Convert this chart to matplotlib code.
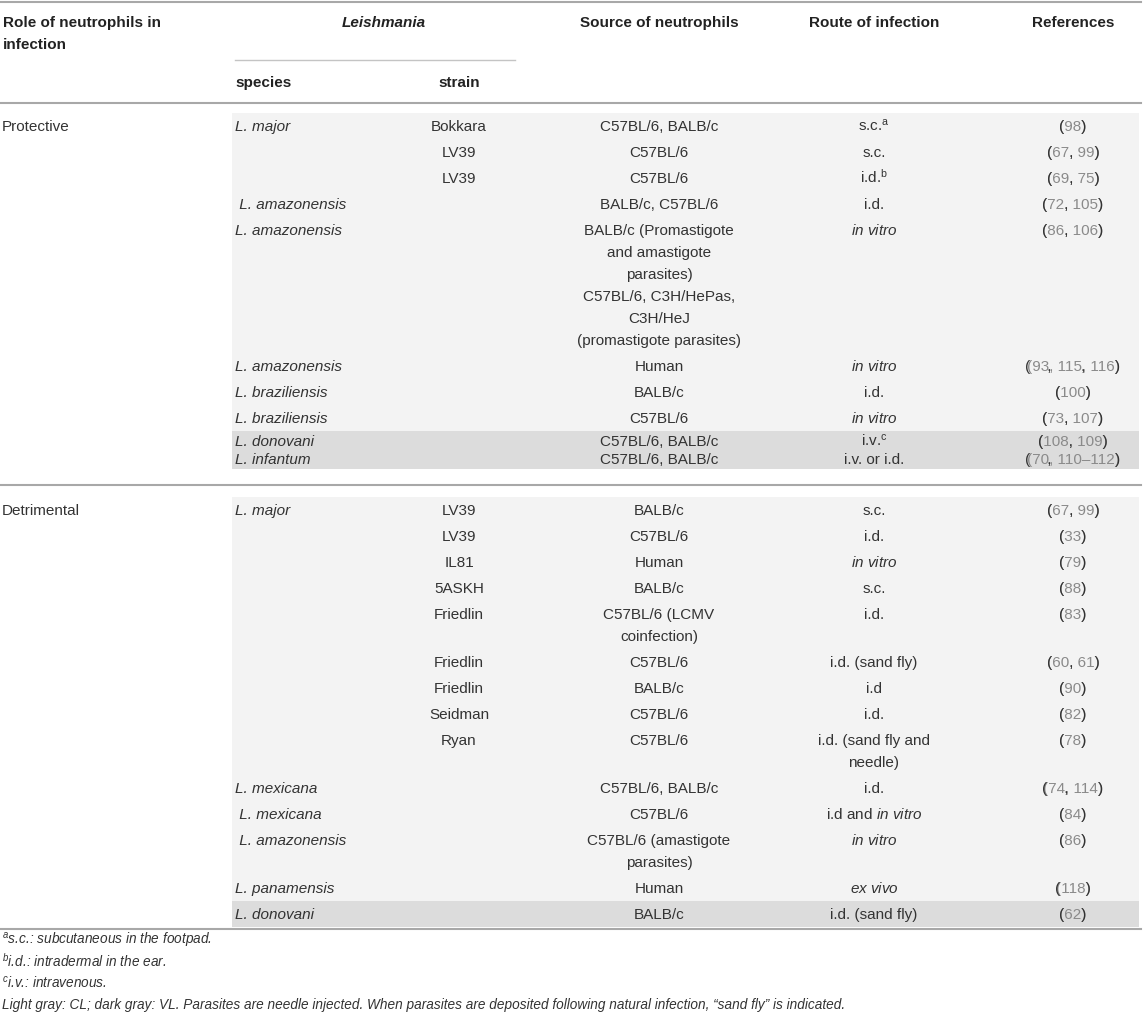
import re
import matplotlib
matplotlib.use("Agg")
import matplotlib.pyplot as plt
from matplotlib import font_manager
from matplotlib.ft2font import FT2Font

plt.rcParams['font.family'] = ['Liberation Sans', 'DejaVu Sans']
plt.rcParams['mathtext.fontset'] = 'custom'
plt.rcParams['mathtext.rm'] = 'Liberation Sans'
plt.rcParams['mathtext.it'] = 'Liberation Sans:italic'
plt.rcParams['mathtext.bf'] = 'Liberation Sans:bold'

# table content
headers = ["Role of neutrophils in\ninfection", "Leishmania", "species", "strain",
           "Source of neutrophils", "Route of infection", "References"]

roles = ["Protective", "Detrimental"]

species_p = ["L. major", "", "", " L. amazonensis", "L. amazonensis", "L. amazonensis",
             "L. braziliensis", "L. braziliensis", "L. donovani", "L. infantum"]
strain_p = ["Bokkara", "LV39", "LV39", "", "", "", "", "", "", ""]
source_p = ["C57BL/6, BALB/c", "C57BL/6", "C57BL/6", "BALB/c, C57BL/6",
            "BALB/c (Promastigote\nand amastigote\nparasites)\nC57BL/6, C3H/HePas,\nC3H/HeJ\n(promastigote parasites)",
            "Human", "BALB/c", "C57BL/6", "C57BL/6, BALB/c", "C57BL/6, BALB/c"]
route_p = [r"s.c.$^{\mathrm{a}}$", "s.c.", r"i.d.$^{\mathrm{b}}$", "i.d.", r"$\mathit{in\ vitro}$",
           r"$\mathit{in\ vitro}$", "i.d.", r"$\mathit{in\ vitro}$", r"i.v.$^{\mathrm{c}}$", "i.v. or i.d."]
refs_p = ["98", "67, 99", "69, 75", "72, 105", "86, 106", "93, 115, 116", "100", "73, 107",
          "108, 109", "70, 110–112"]
vl_p = [0, 0, 0, 0, 0, 0, 0, 0, 1, 1]

species_d = ["L. major", "", "", "", "", "", "", "", "", "L. mexicana", " L. mexicana",
             " L. amazonensis", "L. panamensis", "L. donovani"]
strain_d = ["LV39", "LV39", "IL81", "5ASKH", "Friedlin", "Friedlin", "Friedlin", "Seidman", "Ryan",
            "", "", "", "", ""]
source_d = ["BALB/c", "C57BL/6", "Human", "BALB/c", "C57BL/6 (LCMV\ncoinfection)", "C57BL/6", "BALB/c",
            "C57BL/6", "C57BL/6", "C57BL/6, BALB/c", "C57BL/6", "C57BL/6 (amastigote\nparasites)",
            "Human", "BALB/c"]
route_d = ["s.c.", "i.d.", r"$\mathit{in\ vitro}$", "s.c.", "i.d.", "i.d. (sand fly)", "i.d", "i.d.",
           "i.d. (sand fly and\nneedle)", "i.d.", r"i.d and $\mathit{in\ vitro}$", r"$\mathit{in\ vitro}$",
           r"$\mathit{ex\ vivo}$", "i.d. (sand fly)"]
refs_d = ["67, 99", "33", "79", "88", "83", "60, 61", "90", "82", "78", "74, 114", "84", "86", "118", "62"]
vl_d = [0] * 13 + [1]

footnotes = [r"$^{a}$s.c.: subcutaneous in the footpad.",
             r"$^{b}$i.d.: intradermal in the ear.",
             r"$^{c}$i.v.: intravenous.",
             "Light gray: CL; dark gray: VL. Parasites are needle injected. When parasites are deposited "
             "following natural infection, \u201csand fly\u201d is indicated."]

# layout (pixels)
W, H = 1143, 1017
x_role, x_species, x_strain, x_source, x_route, x_refs = 2, 235, 459, 659, 874, 1073
x_genus = 384
shade_x0, shade_x1 = 232, 1139
pitch, line_h, vl_pitch = 26, 22, 18
txt = "#333333"
hdr = "#222222"
num = "#8a8a8a"
light, dark = "#f3f3f3", "#dcdcdc"
rule = "#a8a8a8"
fs, fs_h, fs_f = 11, 11, 9.8

fig = plt.figure(figsize=(W / 100, H / 100), dpi=100)
ax = fig.add_axes([0, 0, 1, 1])
ax.set_xlim(0, W)
ax.set_ylim(H, 0)
ax.axis("off")
renderer = fig.canvas.get_renderer()

# figure space (digit width) available in the body font?
_ft = FT2Font(font_manager.findfont("Liberation Sans"))
has_figspace = _ft.get_char_index(0x2007) != 0


def text_w(s):
    t = ax.text(0, 0, s + "x", fontsize=fs)
    u = ax.text(0, 0, "x", fontsize=fs)
    w = t.get_window_extent(renderer).width - u.get_window_extent(renderer).width
    t.remove()
    u.remove()
    return w


def put(x, y, s, ha="center", **kw):
    for i, ln in enumerate(s.split("\n")):
        if ln:
            ax.text(x, y + i * line_h + 5, ln, ha=ha, va="baseline", fontsize=fs, color=txt, **kw)


def put_ref(x, y, s):
    full = "(" + s + ")"
    if has_figspace:
        # numbers in gray, brackets and commas dark on top
        ax.text(x, y + 5, full, ha="center", va="baseline", fontsize=fs, color=num)
        punct = re.sub(r"[0-9\u2013]", "\u2007", full)
        ax.text(x, y + 5, punct, ha="center", va="baseline", fontsize=fs, color=txt,
                family="Liberation Sans")
        return
    parts = [p for p in re.split(r"([0-9\u2013]+)", full) if p]
    x0 = x - text_w(full) / 2
    done = ""
    for p in parts:
        ax.text(x0 + text_w(done), y + 5, p, ha="left", va="baseline", fontsize=fs,
                color=num if p[0].isdigit() else txt)
        done += p


def block(y0, role, species, strain, source, route, refs, vl):
    ys = []
    y = y0
    band_top = y0
    for i in range(len(species)):
        n = max(len(source[i].split("\n")), len(route[i].split("\n")))
        in_group = vl[i] and sum(vl) > 1
        if in_group and i > 0 and vl[i - 1]:
            yc = ys[-1] + vl_pitch
        elif in_group:
            yc = y + 10
        else:
            yc = y + pitch / 2
        ys.append(yc)
        if in_group:
            last = i == len(vl) - 1 or not vl[i + 1]
            bot = yc + 10 if last else yc
        else:
            bot = yc + pitch / 2 + (n - 1) * line_h
        # shading band for this row (VL group drawn as one band)
        if not (in_group and i + 1 < len(vl) and vl[i + 1]):
            ax.fill_between([shade_x0, shade_x1], band_top, bot, color=dark if vl[i] else light,
                            lw=0, zorder=0)
            band_top = bot
        y = bot
    put(x_role, ys[0], role, ha="left")
    for i, yc in enumerate(ys):
        put(x_species, yc, species[i], ha="left", fontstyle="italic")
        put(x_strain, yc, strain[i])
        put(x_source, yc, source[i])
        put(x_route, yc, route[i])
        put_ref(x_refs, yc, refs[i])
    return y


# header
ax.plot([0, 1141], [2, 2], color=rule, lw=1.5)
for i, ln in enumerate(headers[0].split("\n")):
    ax.text(x_role + 1, 27 + i * line_h, ln, ha="left", va="baseline", fontsize=fs_h,
            fontweight="bold", color=hdr)
ax.text(x_genus, 27, headers[1], ha="center", va="baseline", fontsize=fs_h, fontweight="bold",
        fontstyle="italic", color=hdr)
ax.plot([x_species, 515], [60, 60], color="#c4c4c4", lw=1)
ax.text(x_species, 87, headers[2], ha="left", va="baseline", fontsize=fs_h, fontweight="bold", color=hdr)
ax.text(x_strain, 87, headers[3], ha="center", va="baseline", fontsize=fs_h, fontweight="bold", color=hdr)
for x, h in zip([x_source, x_route, x_refs], headers[4:]):
    ax.text(x, 27, h, ha="center", va="baseline", fontsize=fs_h, fontweight="bold", color=hdr)
ax.plot([0, 1141], [103, 103], color=rule, lw=1.5)

end1 = block(113, roles[0], species_p, strain_p, source_p, route_p, refs_p, vl_p)
ax.plot([0, 1141], [485, 485], color=rule, lw=1.5)
end2 = block(497, roles[1], species_d, strain_d, source_d, route_d, refs_d, vl_d)
ax.plot([0, 1141], [end2 + 1.5, end2 + 1.5], color=rule, lw=1.5)

for i, f in enumerate(footnotes):
    ax.text(2, 945 + i * 21.5, f, ha="left", va="baseline", fontsize=fs_f, fontstyle="italic", color=txt)

fig.savefig("out.png", dpi=100)
